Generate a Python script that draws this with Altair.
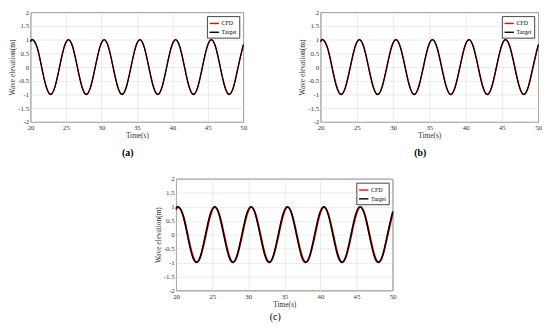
import altair as alt
import pandas as pd

FONT = "Liberation Serif"

time = [20.0, 20.30, 20.93, 21.56, 22.19, 22.82, 23.45, 24.08, 24.71,
        25.34, 25.97, 26.60, 27.23, 27.86, 28.49, 29.12, 29.75,
        30.38, 31.01, 31.64, 32.27, 32.90, 33.53, 34.16, 34.79,
        35.42, 36.05, 36.68, 37.31, 37.94, 38.57, 39.20, 39.83,
        40.46, 41.09, 41.72, 42.35, 42.98, 43.61, 44.24, 44.87,
        45.50, 46.13, 46.76, 47.39, 48.02, 48.65, 49.28, 49.91, 50.0]

target = [0.93, 1.0, 0.71, 0.0, -0.71, -1.0, -0.71, 0.0, 0.71,
          1.0, 0.71, 0.0, -0.71, -1.0, -0.71, 0.0, 0.71,
          1.0, 0.71, 0.0, -0.71, -1.0, -0.71, 0.0, 0.71,
          1.0, 0.71, 0.0, -0.71, -1.0, -0.71, 0.0, 0.71,
          1.0, 0.71, 0.0, -0.71, -1.0, -0.71, 0.0, 0.71,
          1.0, 0.71, 0.0, -0.71, -1.0, -0.71, 0.0, 0.71, 0.78]

cfd_a = [0.91, 0.99, 0.72, 0.02, -0.68, -0.99, -0.72, -0.02, 0.68,
         0.99, 0.72, 0.02, -0.68, -0.99, -0.72, -0.02, 0.68,
         0.99, 0.72, 0.02, -0.68, -0.99, -0.72, -0.02, 0.68,
         0.99, 0.72, 0.02, -0.68, -0.99, -0.72, -0.02, 0.68,
         0.99, 0.72, 0.02, -0.68, -0.99, -0.72, -0.02, 0.68,
         0.99, 0.72, 0.02, -0.68, -0.99, -0.72, -0.02, 0.68, 0.76]

cfd_b = [0.91, 1.0, 0.74, 0.05, -0.67, -1.0, -0.74, -0.05, 0.67,
         1.0, 0.74, 0.05, -0.67, -1.0, -0.74, -0.05, 0.67,
         1.0, 0.74, 0.05, -0.67, -1.0, -0.74, -0.05, 0.67,
         1.0, 0.74, 0.05, -0.67, -1.0, -0.74, -0.05, 0.67,
         1.0, 0.74, 0.05, -0.67, -1.0, -0.74, -0.05, 0.67,
         1.0, 0.74, 0.05, -0.67, -1.0, -0.74, -0.05, 0.67, 0.75]

cfd_c = [0.88, 0.98, 0.75, 0.09, -0.63, -0.98, -0.75, -0.09, 0.63,
         0.98, 0.75, 0.09, -0.63, -0.98, -0.75, -0.09, 0.63,
         0.98, 0.75, 0.09, -0.63, -0.98, -0.75, -0.09, 0.63,
         0.98, 0.75, 0.09, -0.63, -0.98, -0.75, -0.09, 0.63,
         0.98, 0.75, 0.09, -0.63, -0.98, -0.75, -0.09, 0.63,
         0.98, 0.75, 0.09, -0.63, -0.98, -0.75, -0.09, 0.63, 0.71]

x_ticks = [20, 25, 30, 35, 40, 45, 50]
y_ticks = [-2, -1.5, -1, -0.5, 0, 0.5, 1, 1.5, 2]
series = ["CFD", "Target"]
colors = ["#ff0000", "#000000"]
labels = ["(a)", "(b)", "(c)"]


def panel(cfd, label, w, h, sw, toff, weight):
    n = len(time)
    df = pd.DataFrame({
        "t": time + time,
        "y": cfd + target,
        "s": [series[0]] * n + [series[1]] * n,
    })
    return alt.Chart(
        df,
        title=alt.TitleParams(label, orient="bottom", anchor="middle", frame="bounds",
                              font=FONT, fontSize=10, fontWeight=weight, offset=toff, color="#000"),
    ).mark_line(interpolate="natural", strokeWidth=sw).encode(
        x=alt.X("t:Q", scale=alt.Scale(domain=[20, 50], nice=False, zero=False),
                axis=alt.Axis(values=x_ticks, title="Time(s)", labelFlush=False)),
        y=alt.Y("y:Q", scale=alt.Scale(domain=[-2, 2], nice=False),
                axis=alt.Axis(values=y_ticks, title="Wave elevation(m)",
                              labelExpr="datum.value + ''")),
        color=alt.Color("s:N", scale=alt.Scale(domain=series, range=colors),
                        legend=alt.Legend(title=None, orient="top-right")),
    ).properties(width=w, height=h)


pa = panel(cfd_a, labels[0], 217, 112, 1.3, 9, "bold")
pb = panel(cfd_b, labels[1], 222, 112, 1.3, 9, "bold")
pc = panel(cfd_c, labels[2], 221, 114, 1.6, 5, "normal")

top = alt.hconcat(pa, pb, spacing=52).resolve_scale(color="independent")
chart = alt.vconcat(top, pc, spacing=16, center=True).resolve_scale(
    color="independent"
).properties(padding={"top": -4, "left": 0, "right": 0, "bottom": 0}).configure_view(
    stroke="#555", strokeWidth=0.9
).configure_axis(
    labelFont=FONT, labelFontSize=7, labelColor="#333",
    titleFont=FONT, titleFontSize=7.5, titleColor="#333", titleFontWeight="normal",
    grid=True, gridColor="#dddddd", gridWidth=0.6,
    domain=False, ticks=False, labelPadding=2, titlePadding=1,
).configure_legend(
    labelFont=FONT, labelFontSize=6, labelColor="#000",
    symbolType="stroke", symbolSize=90, symbolStrokeWidth=1.4,
    strokeColor="#444", fillColor="white", padding=2, offset=4,
    rowPadding=0, labelOffset=2, cornerRadius=0,
)

chart.save("out.html", embed_options={"renderer": "svg", "actions": False})
